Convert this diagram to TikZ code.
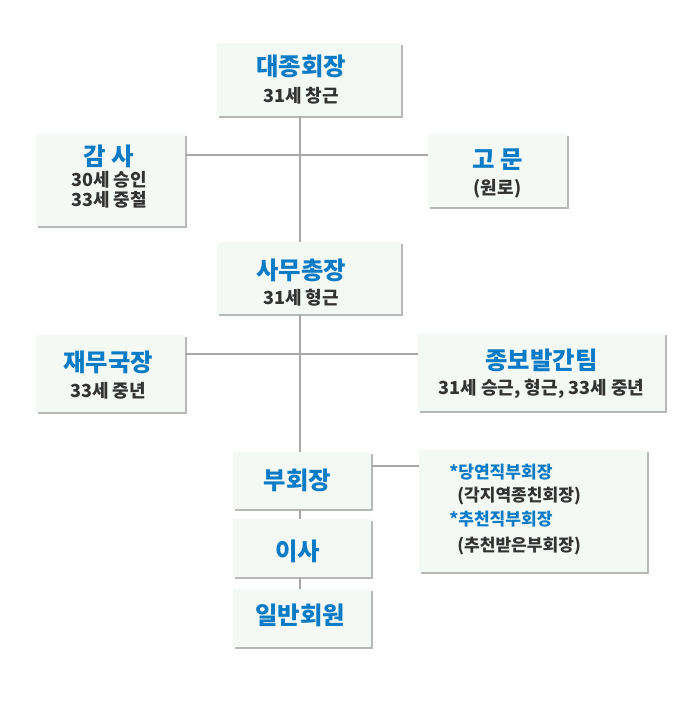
\documentclass[tikz,border=0pt]{standalone}
\usepackage{fontspec}
\setmainfont{Noto Sans CJK KR}
\usetikzlibrary{shadows}
\definecolor{ttlblue}{HTML}{0B7BC6}
\definecolor{subgray}{HTML}{333333}
\definecolor{boxfill}{HTML}{F5F9F6}
\definecolor{linegray}{HTML}{A8A8A8}
\lineskiplimit=-100pt
\lineskip=0pt
\newcommand{\ttl}[1]{{\fontsize{18.3pt}{0pt}\selectfont\bfseries\color{ttlblue}#1}}
\newcommand{\subt}[1]{{\fontsize{13.5pt}{0pt}\selectfont\bfseries\color{subgray}#1}}
\newcommand{\notet}[1]{{\fontsize{12.8pt}{0pt}\selectfont\bfseries\color{subgray}#1}}
\newcommand{\noteb}[1]{{\fontsize{12.8pt}{0pt}\selectfont\bfseries\color{ttlblue}#1}}
\newcommand{\padtop}[2]{\raisebox{0pt}[\dimexpr\height+#1\relax][\depth]{#2}}
\newcommand{\padbot}[2]{\raisebox{0pt}[\height][\dimexpr\depth+#1\relax]{#2}}
% shift a line left inside its box: pad its right side
\newcommand{\padr}[2]{#2\kern#1\relax}
\begin{document}
\begin{tikzpicture}[x=0.75pt,y=-0.75pt,
  orgbox/.style={fill=boxfill, draw=none, inner sep=0pt, align=center,
    font=\fontsize{13.5pt}{0pt}\selectfont,
    drop shadow={shadow xshift=1.2pt, shadow yshift=-1.2pt, fill=black, opacity=0.28}},
  conn/.style={draw=linegray, line width=1.1pt}]
\useasboundingbox (0,0) rectangle (677,709);
\fill[white] (0,0) rectangle (677,709);
\coordinate (spine) at (300,0);
\coordinate (h1) at (0,155);
\coordinate (h2) at (0,354);
\coordinate (h3) at (0,466);
% boxes
\node[orgbox, minimum width=138pt, minimum height=54.75pt] (top) at (309,79.5)
  {\padr{12pt}{\ttl{대종회장}}\\[20.8pt]\padr{12pt}{\subt{31세 창근}}};
\node[orgbox, minimum width=111.75pt, minimum height=69pt] (gamsa) at (110.5,180)
  {\padr{2.25pt}{\ttl{감 사}}\\[15.5pt]\padr{2.25pt}{\subt{30세 승인}}\\[15pt]\padbot{5.25pt}{\padr{2.25pt}{\subt{33세 중철}}}};
\node[orgbox, minimum width=104.25pt, minimum height=54.75pt] (gomun) at (497.5,170.5)
  {\padtop{4.5pt}{\ttl{고 문}}\\[19.3pt]\subt{(원로)}};
\node[orgbox, minimum width=138pt, minimum height=54pt] (samu) at (309,278)
  {\padtop{7.5pt}{\padr{12pt}{\ttl{사무총장}}}\\[18.8pt]\padr{12pt}{\subt{31세 형근}}};
\node[orgbox, minimum width=111.75pt, minimum height=57.75pt] (jaemu) at (110.5,373.5)
  {\padtop{2.25pt}{\padr{3.75pt}{\ttl{재무국장}}}\\[19.5pt]\padr{3.75pt}{\subt{33세 중년}}};
\node[orgbox, minimum width=185.25pt, minimum height=58.5pt] (jongbo) at (541.5,372)
  {\padtop{2.25pt}{\ttl{종보발간팀}}\\[18.5pt]\subt{31세 승근, 형근, 33세 중년}};
\node[orgbox, minimum width=103.5pt, minimum height=42.75pt] (vp) at (302,480.5)
  {\padr{6.75pt}{\ttl{부회장}}};
\node[orgbox, minimum width=103.5pt, minimum height=43.5pt] (isa) at (302,548)
  {\padtop{5.25pt}{\padr{6.75pt}{\ttl{이사}}}};
\node[orgbox, minimum width=103.5pt, minimum height=43.5pt] (member) at (302,618)
  {\padbot{3.4pt}{\padr{3pt}{\ttl{일반회원}}}};
\node[orgbox, minimum width=171pt, minimum height=91.5pt] (vpnote) at (533,511) {};
% right box texts
\node[anchor=base west, inner sep=0pt] (vn1) at (449,478.5) {\noteb{*당연직부회장}};
\node[anchor=base west, inner sep=0pt] (vn2) at (457,501.5) {\notet{(각지역종친회장)}};
\node[anchor=base west, inner sep=0pt] (vn3) at (449,525.5) {\noteb{*추천직부회장}};
\node[anchor=base west, inner sep=0pt] (vn4) at (457,551.5) {\notet{(추천받은부회장)}};
% connectors
\draw[conn] (top.south -| spine) -- (samu.north -| spine);
\draw[conn] (samu.south -| spine) -- (vp.north -| spine);
\draw[conn] (vp.south -| spine) -- (isa.north -| spine);
\draw[conn] (isa.south -| spine) -- (member.north -| spine);
\draw[conn] (gamsa.east |- h1) -- (gomun.west |- h1);
\draw[conn] (jaemu.east |- h2) -- (jongbo.west |- h2);
\draw[conn] (vp.east |- h3) -- (vpnote.west |- h3);
\end{tikzpicture}
\end{document}
